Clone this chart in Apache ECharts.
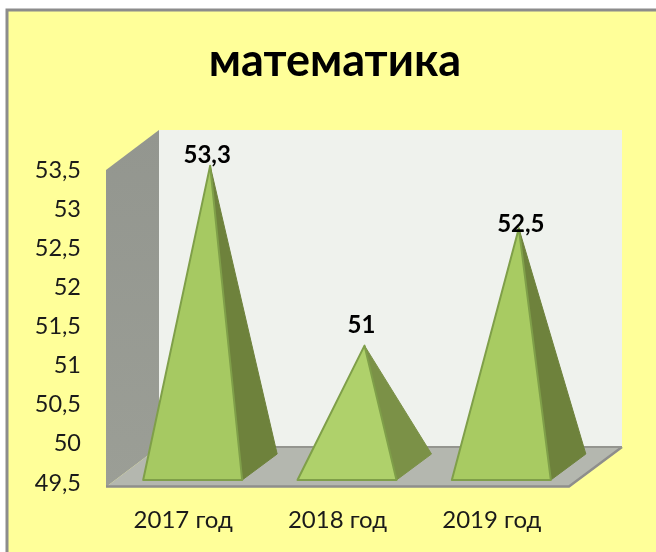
<!DOCTYPE html>
<html><head><meta charset="utf-8">
<style>html,body{margin:0;padding:0;background:#fff;overflow:hidden}#c{width:656px;height:552px}</style>
<script src="https://cdn.jsdelivr.net/npm/echarts@6/dist/echarts.min.js"></script>
</head><body><div id="c"></div>
<script>
var titleText = 'математика';
var categories = ['2017 год', '2018 год', '2019 год'];
var values = [53.3, 51, 52.5];
var labelTexts = ['53,3', '51', '52,5'];

// drawing constants
var DEPTH_X = 53, DEPTH_Y = 40, FLOOR_DROP = 4;
var PYR_DX = 35, PYR_DY = 26, PYR_SHIFT = 9.5, PYR_HALF = 49.5, PYR_LIFT = 3;
var labelGap = [[-3, -2], [-3, 8], [2, -8]];
var frontFill = ['#A6C962', '#AFD16B', '#A8CB62'];
var sideFill = ['#6E823C', '#7B9147', '#6E823C'];
var font = 'Lato, Carlito, sans-serif';

function poly(points, fill, stroke, lw) {
  return {type: 'polygon', shape: {points: points},
    style: {fill: fill, stroke: stroke || null, lineWidth: lw || 0, lineJoin: 'round'}};
}

var chart = echarts.init(document.getElementById('c'));
chart.setOption({
  animation: false,
  backgroundColor: '#ffffff',
  title: {text: titleText, left: 330, top: 34, textAlign: 'center',
    textStyle: {fontFamily: font, fontWeight: 'bold', fontSize: 45, color: '#000'}},
  graphic: [{type: 'rect', z: -10, shape: {x: 7, y: 10, width: 720, height: 620},
    style: {fill: '#FFFF99', stroke: '#8C8C8C', lineWidth: 3}}],
  grid: {left: 106, top: 170, width: 463, height: 313},
  xAxis: {type: 'category', data: categories,
    axisLine: {show: false}, axisTick: {show: false}, splitLine: {show: false},
    axisLabel: {margin: 25, fontFamily: font, fontSize: 24, color: '#1a1a1a'}},
  yAxis: {type: 'value', min: 49.5, max: 53.5, interval: 0.5,
    axisLine: {show: false}, axisTick: {show: false}, splitLine: {show: false},
    axisLabel: {margin: 25, fontFamily: font, fontSize: 23.5, color: '#1a1a1a', padding: [5, 0, 0, 0],
      formatter: function (v) { return String(v).replace('.', ','); }}},
  series: [{
    type: 'custom', coordinateSystem: 'cartesian2d', silent: true, z: 2,
    data: [[0, 49.5]],
    renderItem: function (params, api) {
      var g = params.coordSys, L = g.x, R = g.x + g.width, T = g.y, B = g.y + g.height + FLOOR_DROP;
      var grad = new echarts.graphic.LinearGradient(0, 0, 0, 1, [
        {offset: 0, color: '#93968F'}, {offset: 1, color: '#9B9E96'}]);
      return {type: 'group', children: [
        poly([[L + DEPTH_X, T - DEPTH_Y], [R + DEPTH_X, T - DEPTH_Y], [R + DEPTH_X, B - DEPTH_Y], [L + DEPTH_X, B - DEPTH_Y]], '#EFF2ED'),
        poly([[L, T], [L + DEPTH_X, T - DEPTH_Y], [L + DEPTH_X, B - DEPTH_Y], [L, B]], grad),
        poly([[L, B], [R, B], [R + DEPTH_X, B - DEPTH_Y], [L + DEPTH_X, B - DEPTH_Y]], '#B4B7AF'),
        {type: 'polyline', shape: {points: [[L, B - 0.5], [R, B - 0.5], [R + DEPTH_X, B - DEPTH_Y]]},
          style: {fill: null, stroke: '#8E8E8C', lineWidth: 2.5}},
        {type: 'line', shape: {x1: L + DEPTH_X, y1: B - DEPTH_Y, x2: R + DEPTH_X, y2: B - DEPTH_Y},
          style: {stroke: '#94958F', lineWidth: 2}}
      ]};
    }
  }, {
    type: 'custom', coordinateSystem: 'cartesian2d', silent: true, z: 3,
    data: values.map(function (v, i) { return [i, v]; }),
    encode: {x: 0, y: 1},
    renderItem: function (params, api) {
      var i = params.dataIndex;
      var top = api.coord([api.value(0), api.value(1)]);
      var base = api.coord([api.value(0), 49.5]);
      var cx = base[0] + PYR_SHIFT, by = base[1] - PYR_LIFT;
      var apex = [cx + PYR_DX / 2, top[1] - DEPTH_Y / 2];
      var fl = [cx - PYR_HALF, by], fr = [cx + PYR_HALF, by], br = [cx + PYR_HALF + PYR_DX, by - PYR_DY];
      return {type: 'group', children: [
        poly([fr, br, apex], sideFill[i], sideFill[i], 1),
        poly([fl, fr, apex], frontFill[i], '#7F9F49', 2),
        {type: 'text', style: {text: labelTexts[i], x: apex[0] + labelGap[i][0], y: apex[1] - labelGap[i][1],
          align: 'center', verticalAlign: 'bottom', fill: '#000',
          font: 'bold 24px ' + font}}
      ]};
    }
  }]
});
</script></body></html>
